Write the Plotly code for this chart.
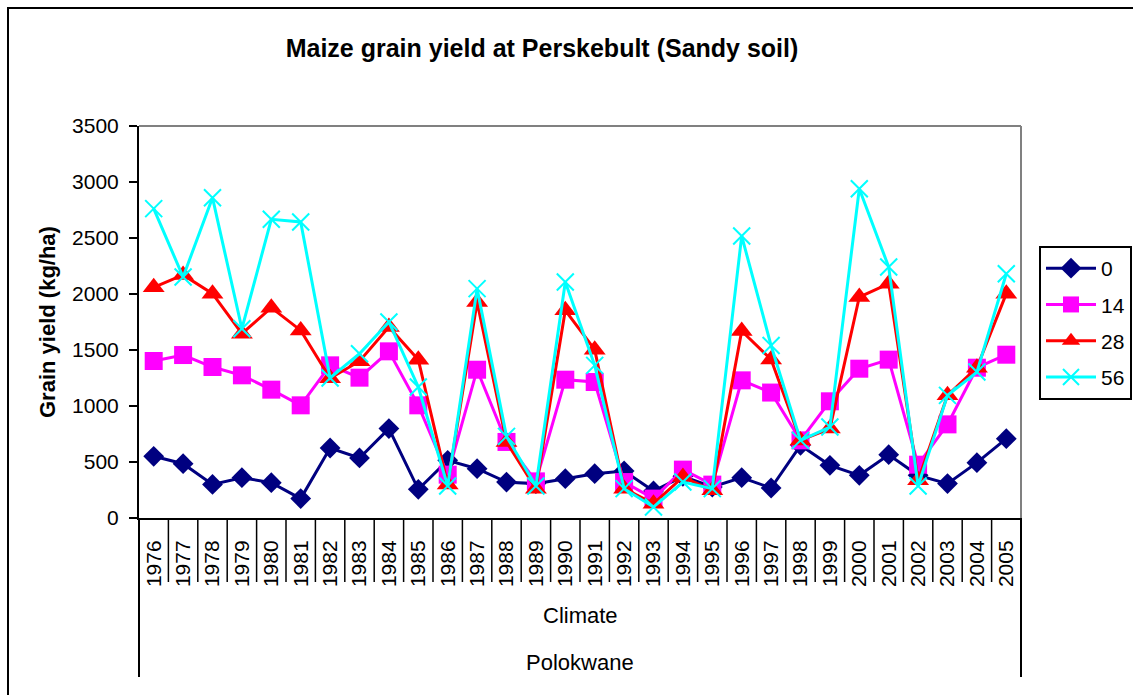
import plotly.graph_objects as go

# ---- data ----
years = [str(y) for y in range(1976, 2006)]
yield_0 = [551, 485, 300, 360, 315, 173, 625, 536, 798, 256, 515, 440, 321, 307, 351,
           396, 420, 241, 372, 277, 360, 268, 649, 470, 381, 565, 381, 307, 494, 708]
yield_14 = [1402, 1455, 1348, 1274, 1146, 1006, 1363, 1253, 1488, 1006, 387, 1324, 679, 327, 1235,
            1214, 321, 173, 432, 298, 1229, 1120, 693, 1042, 1333, 1414, 476, 836, 1342, 1458]
yield_28 = [2060, 2170, 2003, 1646, 1878, 1675, 1248, 1400, 1705, 1414, 298, 1928, 679, 262, 1854,
            1503, 262, 128, 366, 247, 1670, 1415, 693, 798, 1973, 2092, 336, 1095, 1342, 2003]
yield_56 = [2762, 2152, 2860, 1690, 2667, 2643, 1250, 1467, 1750, 1170, 286, 2048, 729, 286, 2107,
            1363, 262, 98, 321, 262, 2518, 1540, 693, 812, 2940, 2241, 286, 1095, 1303, 2181]
series_names = ["0", "14", "28", "56"]
level2_label = "Climate"
level3_label = "Polokwane"

FONT = "Liberation Sans, Arial, sans-serif"

fig = go.Figure()
styles = [
    dict(color="#000080", symbol="diamond", size=16),
    dict(color="#FF00FF", symbol="square", size=18),
    dict(color="#FF0000", symbol="triangle-up", size=19),
    dict(color="#00FFFF", symbol="x-thin", size=17),
]
for name, vals, st in zip(series_names, [yield_0, yield_14, yield_28, yield_56], styles):
    marker = dict(symbol=st["symbol"], size=st["size"], color=st["color"],
                  line=dict(width=0, color=st["color"]))
    if st["symbol"] == "x-thin":
        marker["line"] = dict(width=2, color=st["color"])
    fig.add_trace(go.Scatter(
        x=years, y=vals, name=name, mode="lines+markers",
        line=dict(color=st["color"], width=3),
        marker=marker, legendgroup=name,
    ))

n = len(years)
W, H = 1133, 695
L, R, T, B = 139, 112, 126, 177
plot_h = H - T - B

def py(pix):
    # pixel row -> paper y
    return (H - B - pix) / plot_h

shapes = []
# gray top/right border of plot area
shapes.append(dict(type="line", xref="paper", yref="paper", x0=0, x1=1, y0=1, y1=1,
                   line=dict(color="#808080", width=2)))
shapes.append(dict(type="line", xref="paper", yref="paper", x0=1, x1=1, y0=0, y1=1,
                   line=dict(color="#808080", width=2)))
# category dividers
for k in range(n + 1):
    end = (k == 0 or k == n)
    shapes.append(dict(type="line", xref="x domain", yref="paper", x0=k / n, x1=k / n,
                       y0=0, y1=py(677) if end else py(582),
                       line=dict(color="black", width=2 if end else 1.5)))
# outer chart border (left/top visible)
shapes.append(dict(type="rect", xref="paper", yref="paper",
                   x0=(8 - L) / (W - L - R), x1=(W + 20 - L) / (W - L - R),
                   y0=py(H + 20), y1=py(8), line=dict(color="black", width=2)))

fig.update_layout(
    width=W, height=H,
    margin=dict(l=L, r=R, t=T, b=B, autoexpand=False),
    paper_bgcolor="white", plot_bgcolor="white",
    font=dict(family=FONT, size=21, color="black"),
    title=dict(text="<b>Maize grain yield at Perskebult (Sandy soil)</b>",
               x=542 / W, xref="container", xanchor="center",
               y=1 - 48 / H, yref="container", yanchor="middle",
               font=dict(size=25, family=FONT, color="black")),
    showlegend=True,
    legend=dict(x=(1039 - L) / (W - L - R), xanchor="left", y=py(246), yanchor="top",
                bordercolor="black", borderwidth=2, bgcolor="white", itemwidth=50,
                font=dict(size=21, family=FONT), tracegroupgap=6, traceorder="grouped"),
    shapes=shapes,
    annotations=[
        dict(text="<b>Grain yield (kg/ha)</b>", textangle=-90, xref="paper", yref="paper",
             x=(47 - L) / (W - L - R), y=py(322), xanchor="center", yanchor="middle",
             showarrow=False, font=dict(size=22, family=FONT)),
        dict(text=level2_label, xref="paper", yref="paper", x=0.5, y=py(615),
             xanchor="center", yanchor="middle", showarrow=False, font=dict(size=22, family=FONT)),
        dict(text=level3_label, xref="paper", yref="paper", x=0.5, y=py(662),
             xanchor="center", yanchor="middle", showarrow=False, font=dict(size=22, family=FONT)),
    ],
)
fig.update_xaxes(type="category", range=[-0.5, n - 0.5], showline=True, linecolor="black",
                 linewidth=2, ticks="", tickangle=-90, showgrid=False, zeroline=False,
                 tickfont=dict(size=21, family=FONT), ticklabelstandoff=12)
fig.update_yaxes(range=[0, 3500], dtick=500, showline=True, linecolor="black", linewidth=2,
                 ticks="outside", ticklen=8, tickwidth=2, tickcolor="black", showgrid=False,
                 zeroline=False, tickfont=dict(size=21, family=FONT), ticklabelstandoff=6)

fig.write_html("out.html", config={"displayModeBar": False},
               post_script="document.body.style.margin='0';document.body.style.overflow='hidden';")
